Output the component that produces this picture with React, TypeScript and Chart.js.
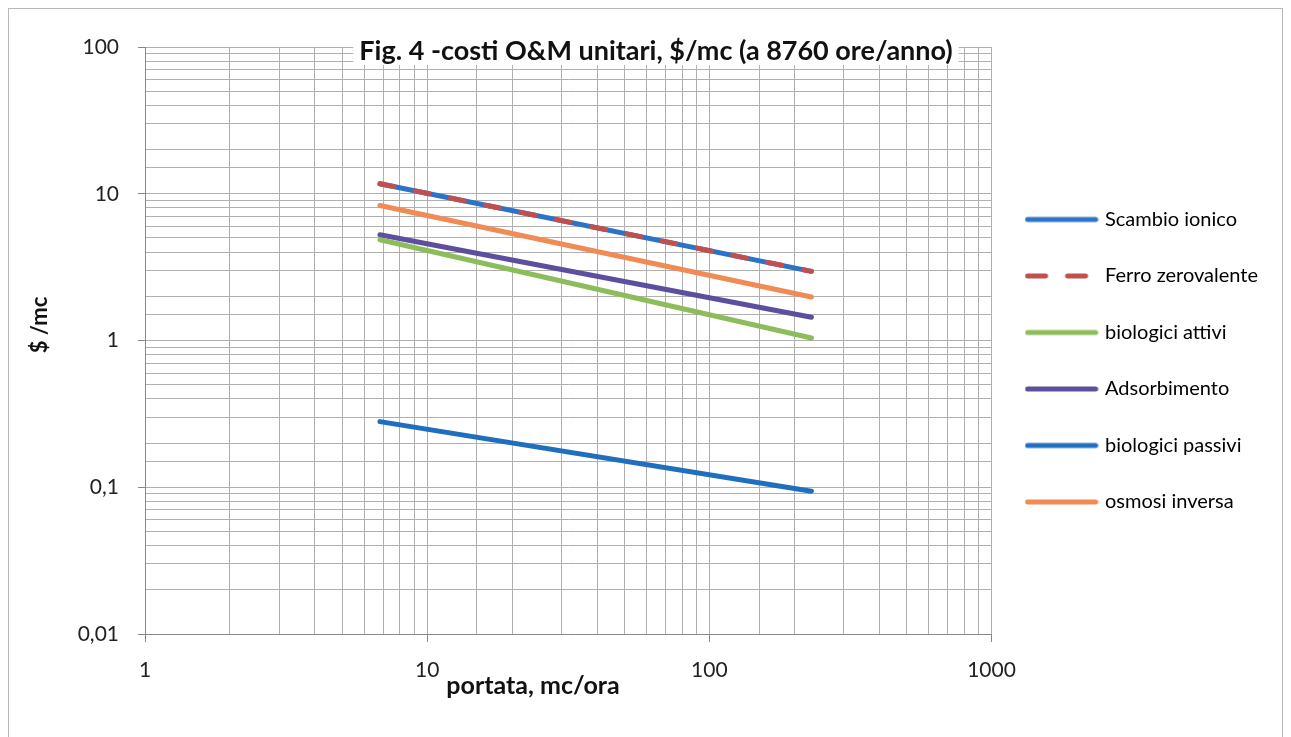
import React, { useEffect, useRef } from "react";
import { Chart, registerables } from "chart.js";

Chart.register(...registerables);

const xValues = [6.8, 230];
const scambioIonico = [11.7, 2.96];
const ferroZerovalente = [11.7, 2.96];
const biologiciAttivi = [4.86, 1.04];
const adsorbimento = [5.26, 1.44];
const biologiciPassivi = [0.28, 0.094];
const osmosiInversa = [8.32, 1.98];

const seriesNames = [
  "Scambio ionico",
  "Ferro zerovalente",
  "biologici attivi",
  "Adsorbimento",
  "biologici passivi",
  "osmosi inversa",
];
const seriesColors = ["#2c72c6", "#c0504d", "#8dbd5a", "#5d4f9e", "#1f6fbe", "#f08b55"];

const titleText = "Fig. 4 -costi O&M unitari, $/mc (a 8760 ore/anno)";
const xTitle = "portata, mc/ora";
const yTitle = "$ /mc";
const FONT = "Lato, 'Open Sans', sans-serif";

const isDecade = (v: number) => Math.abs(Math.log10(v) - Math.round(Math.log10(v))) < 1e-6;

const toPoints = (ys: number[]) => ys.map((y, i) => ({ x: xValues[i], y }));

function legendSample(color: string, dashed: boolean) {
  const c = document.createElement("canvas");
  c.width = 74;
  c.height = 8;
  const g = c.getContext("2d")!;
  g.strokeStyle = color;
  g.lineWidth = 5;
  g.lineCap = "round";
  if (dashed) g.setLineDash([18, 22]);
  g.beginPath();
  g.moveTo(3, 4);
  g.lineTo(71, 4);
  g.stroke();
  return c;
}

export default function App() {
  const ref = useRef<HTMLCanvasElement | null>(null);
  useEffect(() => {
    if (!ref.current) return;
    const allSeries = [scambioIonico, ferroZerovalente, biologiciAttivi, adsorbimento, biologiciPassivi, osmosiInversa];
    const datasets = allSeries.map((ys, i) => ({
      label: seriesNames[i],
      data: toPoints(ys),
      borderColor: seriesColors[i],
      backgroundColor: seriesColors[i],
      borderWidth: 5,
      borderCapStyle: "round" as const,
      borderDash: i === 1 ? [14, 22] : [],
      pointRadius: 0,
      pointStyle: legendSample(seriesColors[i], i === 1),
      order: i === 1 ? 0 : 1,
    }));

    const textPlugin = {
      id: "inTitle",
      afterDraw(chart: any) {
        const { ctx, chartArea } = chart;
        ctx.save();
        ctx.font = `bold 27px ${FONT}`;
        const w = ctx.measureText(titleText).width;
        const cx = 647;
        const cy = chartArea.top + 4;
        ctx.fillStyle = "#ffffff";
        ctx.fillRect(cx - w / 2 - 6, cy - 15, w + 12, 29);
        ctx.fillStyle = "#111";
        ctx.textAlign = "center";
        ctx.textBaseline = "middle";
        ctx.fillText(titleText, cx, cy);

        // x axis title
        ctx.font = `bold 25px ${FONT}`;
        ctx.fillText(xTitle, 524, chartArea.bottom + 52);

        // y axis title
        ctx.font = `bold 22px ${FONT}`;
        ctx.translate(31, 316);
        ctx.rotate(-Math.PI / 2);
        ctx.fillText(yTitle, 0, 0);
        ctx.restore();
      },
    };

    const chart = new Chart(ref.current, {
      type: "line",
      data: { datasets },
      plugins: [textPlugin],
      options: {
        animation: false,
        responsive: false,
        maintainAspectRatio: false,
        layout: { padding: { top: 38, bottom: 14, left: 0, right: 14 } },
        plugins: {
          title: { display: false },
          tooltip: { enabled: false },
          legend: {
            position: "right",
            fullSize: false,
            title: { display: true, text: " ", font: { size: 10 }, padding: { top: 0, bottom: 28.5 } },
            labels: {
              usePointStyle: true,
              pointStyleWidth: 67,
              padding: 36.5,
              color: "#000",
              font: { family: FONT, size: 20 },
              sort: (a: any, b: any) => a.datasetIndex - b.datasetIndex,
            },
          },
        },
        scales: {
          x: {
            type: "logarithmic",
            min: 1,
            max: 1000,
            afterFit: (s: any) => {
              s.height = 90;
            },
            border: { color: "#888", width: 1 },
            grid: {
              color: "#b0b0b0",
              lineWidth: 1,
              tickLength: 8,
              tickColor: (c: any) => (c.tick && isDecade(c.tick.value) ? "#888" : "rgba(0,0,0,0)"),
            },
            ticks: {
              autoSkip: false,
              maxRotation: 0,
              padding: 16,
              color: "#222",
              font: { family: FONT, size: 21 },
              callback: (v: any) => (isDecade(Number(v)) ? String(Math.round(Number(v))) : ""),
            },
            title: { display: false, text: xTitle },
          },
          y: {
            type: "logarithmic",
            min: 0.01,
            max: 100,
            afterFit: (s: any) => {
              s.width = 136;
            },
            border: { color: "#888", width: 1 },
            grid: {
              color: "#b0b0b0",
              lineWidth: 1,
              tickLength: 7,
              tickColor: (c: any) => (c.tick && isDecade(c.tick.value) ? "#888" : "rgba(0,0,0,0)"),
            },
            ticks: {
              autoSkip: false,
              padding: 19,
              color: "#222",
              font: { family: FONT, size: 21 },
              callback: (v: any) => {
                const n = Number(v);
                if (!isDecade(n)) return "";
                const p = Math.round(Math.log10(n));
                const s = p >= 0 ? String(Math.round(n)) : n.toFixed(-p);
                return s.replace(".", ",");
              },
            },
            title: { display: false, text: yTitle },
          },
        },
      },
    } as any);
    return () => chart.destroy();
  }, []);

  return (
    <div style={{ width: 1273, height: 729, border: "1px solid #b8b8b8", background: "#fff" }}>
      <canvas ref={ref} width={1273} height={729} />
    </div>
  );
}
